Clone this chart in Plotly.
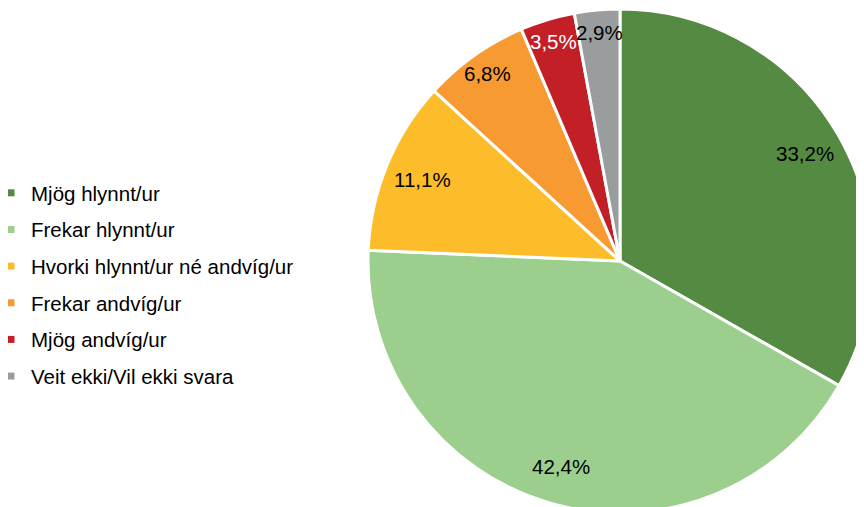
import math
import plotly.graph_objects as go

categories = [
    "Mjög hlynnt/ur",
    "Frekar hlynnt/ur",
    "Hvorki hlynnt/ur né andvíg/ur",
    "Frekar andvíg/ur",
    "Mjög andvíg/ur",
    "Veit ekki/Vil ekki svara",
]
values = [33.2, 42.4, 11.1, 6.8, 3.5, 2.9]
labels_text = ["33,2%", "42,4%", "11,1%", "6,8%", "3,5%", "2,9%"]

colors = ["#548A41", "#9CCF8E", "#FDBC2A", "#F69A31", "#C31F27", "#9A9D9D"]
label_colors = ["black", "black", "black", "black", "white", "black"]

W, H = 864, 507
dom_x = [360 / W, 1.0]
dom_y = [2 / H, 506 / H]
FONT = "Arial, Liberation Sans, sans-serif"

fig = go.Figure()
fig.add_trace(go.Pie(
    values=values,
    labels=categories,
    sort=False,
    direction="clockwise",
    rotation=0,
    marker=dict(colors=colors, line=dict(color="white", width=3)),
    textinfo="none",
    showlegend=False,
    domain=dict(x=dom_x, y=dom_y),
    hoverinfo="label+percent",
))

# legend entries
for i, (cat, col) in enumerate(zip(categories, colors)):
    fig.add_trace(go.Scatter(
        x=[None], y=[None], mode="markers",
        marker=dict(symbol="square", size=7, color=col),
        name=cat, legendgroup=f"g{i}", showlegend=True,
    ))

# label annotations placed along slice mid-angles
pw = (dom_x[1] - dom_x[0]) * W
ph = (dom_y[1] - dom_y[0]) * H
R = min(pw, ph) / 2
cx = (dom_x[0] + dom_x[1]) / 2 * W
cy = (1 - (dom_y[0] + dom_y[1]) / 2) * H
total = sum(values)
cum = 0.0
for v, t, c in zip(values, labels_text, label_colors):
    mid = (cum + v / 2) / total * 2 * math.pi
    cum += v
    frac_r = 0.85 if v >= 10 else 0.91
    px = cx + frac_r * R * math.sin(mid)
    py = cy - frac_r * R * math.cos(mid)
    fig.add_annotation(
        x=px / W, y=1 - py / H, xref="paper", yref="paper",
        text=t, showarrow=False,
        font=dict(family=FONT, size=20.5, color=c),
        xanchor="center", yanchor="middle",
    )

fig.update_layout(
    width=W, height=H,
    margin=dict(l=0, r=0, t=0, b=0, autoexpand=False),
    paper_bgcolor="white",
    plot_bgcolor="white",
    xaxis=dict(visible=False),
    yaxis=dict(visible=False),
    legend=dict(
        x=-17 / W, y=1 - 276.5 / H, xanchor="left", yanchor="middle",
        font=dict(family=FONT, size=20.5, color="black"),
        tracegroupgap=7,
        bgcolor="rgba(0,0,0,0)",
    ),
    font=dict(family=FONT),
)

fig.write_html("out.html")
